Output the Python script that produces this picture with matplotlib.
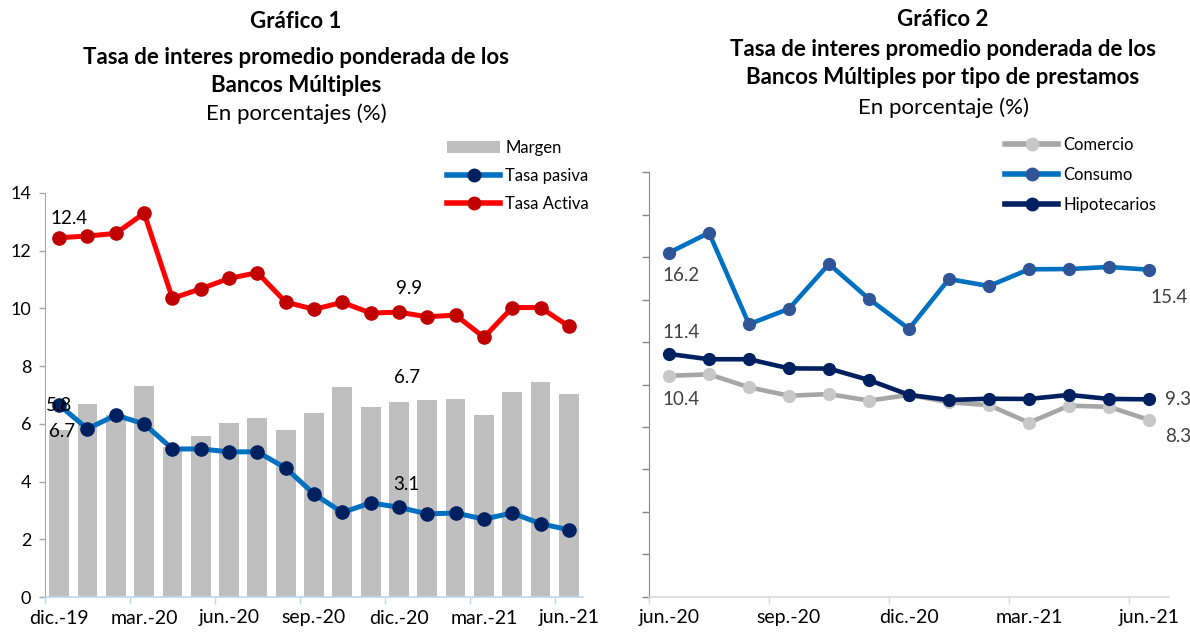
import matplotlib
matplotlib.use("Agg")
import matplotlib.pyplot as plt
from matplotlib.lines import Line2D
from matplotlib.patches import Patch

plt.rcParams['font.family'] = ['Lato', 'DejaVu Sans']

# ---------------- data: chart 1 ----------------
months1 = ["dic.-19", "ene.-20", "feb.-20", "mar.-20", "abr.-20", "may.-20", "jun.-20",
           "jul.-20", "ago.-20", "sep.-20", "oct.-20", "nov.-20", "dic.-20", "ene.-21",
           "feb.-21", "mar.-21", "abr.-21", "may.-21", "jun.-21"]
margen = [5.8, 6.7, 6.3, 7.3, 5.2, 5.57, 6.02, 6.21, 5.78, 6.39, 7.27, 6.57, 6.76,
          6.84, 6.87, 6.32, 7.12, 7.46, 7.05]
tasa_pasiva = [6.65, 5.83, 6.30, 6.0, 5.13, 5.13, 5.03, 5.03, 4.47, 3.57, 2.93, 3.26,
               3.11, 2.88, 2.91, 2.70, 2.91, 2.54, 2.33]
tasa_activa = [12.45, 12.51, 12.6, 13.3, 10.35, 10.68, 11.04, 11.24, 10.22, 9.97, 10.21,
               9.84, 9.87, 9.71, 9.77, 9.0, 10.03, 10.03, 9.38]
ticklabels1 = ["dic.-19", "mar.-20", "jun.-20", "sep.-20", "dic.-20", "mar.-21", "jun.-21"]

# ---------------- data: chart 2 ----------------
months2 = ["jun.-20", "jul.-20", "ago.-20", "sep.-20", "oct.-20", "nov.-20", "dic.-20",
           "ene.-21", "feb.-21", "mar.-21", "abr.-21", "may.-21", "jun.-21"]
comercio = [10.41, 10.48, 9.87, 9.47, 9.55, 9.24, 9.51, 9.16, 9.03, 8.2, 9.0, 8.95, 8.33]
consumo = [16.21, 17.15, 12.84, 13.57, 15.68, 14.03, 12.62, 14.97, 14.64, 15.43, 15.44,
           15.54, 15.41]
hipotecarios = [11.44, 11.19, 11.19, 10.76, 10.75, 10.21, 9.51, 9.27, 9.33, 9.32, 9.51,
                9.32, 9.30]
ticklabels2 = ["jun.-20", "sep.-20", "dic.-20", "mar.-21", "jun.-21"]

W, H = 1190, 635
fig = plt.figure(figsize=(W / 100, H / 100), dpi=100)


def fx(px):
    return px / W


def fy(py):
    return 1 - py / H


# ---------------- chart 1 ----------------
ax1 = fig.add_axes([fx(45), fy(597), (583 - 45) / W, (597 - 193) / H])
x1 = list(range(len(months1)))
ax1.bar(x1, margen, width=0.7, color="#BFBFBF", zorder=1, label="Margen")
ax1.plot(x1, tasa_pasiva, color="#0070C0", lw=3.6, marker="o", ms=9.5,
         mfc="#002060", mec="#002060", zorder=3, label="Tasa pasiva")
ax1.plot(x1, tasa_activa, color="#FF0000", lw=3.6, marker="o", ms=9.5,
         mfc="#C00000", mec="#C00000", zorder=3, label="Tasa Activa")
ax1.set_xlim(-0.5, len(months1) - 0.5)
ax1.set_ylim(0, 14)
ax1.set_yticks(range(0, 15, 2))
ax1.tick_params(axis="y", direction="out", length=4, width=1, color="#A6A6A6",
                labelsize=13, pad=6)
ax1.set_xticks([months1.index(m) for m in ticklabels1])
ax1.set_xticklabels(ticklabels1)
ax1.set_xticks([i - 0.5 for i in range(0, len(months1), 3)], minor=True)
ax1.tick_params(axis="x", which="major", length=0, labelsize=14, pad=9)
ax1.tick_params(axis="x", which="minor", direction="out", length=5, width=1,
                color="#BDD7EE")
for s in ["top", "right"]:
    ax1.spines[s].set_visible(False)
ax1.spines["left"].set_color("#A6A6A6")
ax1.spines["bottom"].set_color("#BDD7EE")
ax1.spines["bottom"].set_linewidth(1.2)

lab_kw = dict(fontsize=13.5, color="black", ha="center", va="center", zorder=5)
ax1.text(0.35, 13.1, "12.4", **lab_kw)
ax1.text(12.35, 10.7, "9.9", **lab_kw)
ax1.text(12.3, 7.6, "6.7", **lab_kw)
ax1.text(12.25, 3.9, "3.1", **lab_kw)
ax1.text(0.0, 6.62, "5.8", **lab_kw)
ax1.text(0.1, 5.72, "6.7", **lab_kw)

h1 = [Patch(facecolor="#BFBFBF", edgecolor="none"),
      Line2D([], [], color="#0070C0", lw=4, marker="o", ms=9, mfc="#002060", mec="#002060"),
      Line2D([], [], color="#FF0000", lw=4, marker="o", ms=9, mfc="#C00000", mec="#C00000")]
fig.legend(h1, ["Margen", "Tasa pasiva", "Tasa Activa"], loc="upper left",
           bbox_to_anchor=(fx(447), fy(140)), frameon=False, fontsize=12,
           handlelength=3.2, handletextpad=0.3, labelspacing=0.72, borderpad=0,
           borderaxespad=0, handleheight=0.7)

# ---------------- chart 2 ----------------
ax2 = fig.add_axes([fx(649), fy(596.7), 520 / W, (596.7 - 172.3) / H])
x2 = list(range(len(months2)))
ax2.plot(x2, comercio, color="#A6A6A6", lw=3.3, marker="o", ms=8.5,
         mfc="#C8C8C8", mec="#C8C8C8", zorder=2, label="Comercio")
ax2.plot(x2, consumo, color="#0070C0", lw=3.3, marker="o", ms=8.5,
         mfc="#2F5597", mec="#2F5597", zorder=3, label="Consumo")
ax2.plot(x2, hipotecarios, color="#002060", lw=3.3, marker="o", ms=8.5,
         mfc="#002060", mec="#002060", zorder=4, label="Hipotecarios")
ax2.set_xlim(-0.5, len(months2) - 0.5)
ax2.set_ylim(0, 20)
ax2.set_yticks(range(0, 21, 2))
ax2.set_yticklabels([])
ax2.tick_params(axis="y", direction="out", length=5, width=1, color="#868686")
ax2.set_xticks([months2.index(m) for m in ticklabels2])
ax2.set_xticklabels(ticklabels2)
ax2.set_xticks([i - 0.5 for i in range(0, len(months2), 3)], minor=True)
ax2.tick_params(axis="x", which="major", length=0, labelsize=14, pad=9)
ax2.tick_params(axis="x", which="minor", direction="out", length=5, width=1,
                color="#D9D9D9")
for s in ["top", "right"]:
    ax2.spines[s].set_visible(False)
ax2.spines["left"].set_color("#868686")
ax2.spines["bottom"].set_color("#D9D9D9")
ax2.spines["bottom"].set_linewidth(1.2)

lab2 = dict(fontsize=13.5, color="#404040", ha="center", va="center", zorder=5,
            clip_on=False)
ax2.text(0.3, 15.15, "16.2", **lab2)
ax2.text(0.3, 12.47, "11.4", **lab2)
ax2.text(0.3, 9.27, "10.4", **lab2)
ax2.text(12.5, 14.12, "15.4", **lab2)
ax2.text(12.72, 9.27, "9.3", **lab2)
ax2.text(12.72, 7.57, "8.3", **lab2)

h2 = [Line2D([], [], color="#A6A6A6", lw=4, marker="o", ms=9, mfc="#C8C8C8", mec="#C8C8C8"),
      Line2D([], [], color="#0070C0", lw=4, marker="o", ms=9, mfc="#2F5597", mec="#2F5597"),
      Line2D([], [], color="#002060", lw=4, marker="o", ms=9, mfc="#002060", mec="#002060")]
fig.legend(h2, ["Comercio", "Consumo", "Hipotecarios"], loc="upper left",
           bbox_to_anchor=(fx(1005), fy(137)), frameon=False, fontsize=12,
           handlelength=3.2, handletextpad=0.3, labelspacing=0.85, borderpad=0,
           borderaxespad=0)

# ---------------- titles ----------------
def title_line(xc, yc, s, size, bold):
    fig.text(fx(xc), fy(yc), s, ha="center", va="center", fontsize=size,
             fontweight="bold" if bold else "normal", color="black")

title_line(296, 22, "Gráfico 1", 16, True)
title_line(296, 57, "Tasa de interes promedio ponderada de los", 16, True)
title_line(296, 85, "Bancos Múltiples", 16, True)
title_line(296, 114, "En porcentajes (%)", 16, False)

title_line(943, 20, "Gráfico 2", 16, True)
title_line(943, 50, "Tasa de interes promedio ponderada de los", 16, True)
title_line(943, 78, "Bancos Múltiples por tipo de prestamos", 16, True)
title_line(943, 108, "En porcentaje (%)", 16, False)

fig.savefig("out.png", dpi=100)
